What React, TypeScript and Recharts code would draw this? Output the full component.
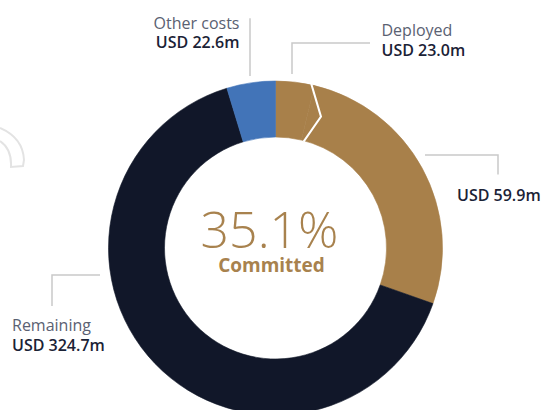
import React from 'react';
import { PieChart, Pie, Cell } from 'recharts';

// Slice order clockwise from 12 o'clock
const SLICE_NAMES = ['Deployed', 'Committed', 'Remaining', 'Other costs'];
// Share of the ring (percent)
const SLICE_SHARES = [3.75, 26.65, 64.9, 4.7];
const LABEL_TITLES = ['Deployed', '', 'Remaining', 'Other costs'];
const LABEL_VALUES = ['USD 23.0m', 'USD 59.9m', 'USD 324.7m', 'USD 22.6m'];
const CENTER_VALUE = '35.1%';
const CENTER_CAPTION = 'Committed';

const COLORS = ['#A8804A', '#A8804A', '#111729', '#4274B8'];
const FONT = '"Open Sans", "Noto Sans", sans-serif';
const LINE = '#c9c9c9';

const data = SLICE_NAMES.map((name, i) => ({ name, value: SLICE_SHARES[i] }));

// Annotation layout, relative to the pie centre
const LAYOUT = [
  { pts: [[16.5, -174], [16.5, -205], [94.5, -205]], tx: 106, ty: -212, anchor: 'start' },
  { pts: [[149.5, -93], [222.5, -93], [222.5, -73.5]], tx: 181.5, ty: -47, anchor: 'start' },
  { pts: [[-175.5, 27], [-223.5, 27], [-223.5, 58]], tx: -263.5, ty: 82.7, anchor: 'start' },
  { pts: [[-25.5, -172], [-25.5, -229.7]], tx: -36, ty: -219.5, anchor: 'end' },
];

const RAD = Math.PI / 180;
const polar = (cx: number, cy: number, r: number, a: number) => [cx + r * Math.cos(-a * RAD), cy + r * Math.sin(-a * RAD)];

const renderLabel = (props: any) => {
  const { cx, cy, index, midAngle, percent, innerRadius, outerRadius } = props;
  const lay = LAYOUT[index];
  const pts = lay.pts.map(([x, y]) => `${cx + x},${cy + y}`).join(' ');
  const title = LABEL_TITLES[index];
  let chevron = null;
  if (index === 0) {
    const end = typeof props.endAngle === 'number' ? props.endAngle : midAngle - (percent * 360) / 2;
    const midR = (innerRadius + outerRadius) / 2;
    const p1 = polar(cx, cy, outerRadius + 1, end + 1.2);
    const p2 = polar(cx, cy, midR, end - 5.6);
    const p3 = polar(cx, cy, innerRadius - 1, end - 1.3);
    chevron = (
      <polyline points={`${p1[0]},${p1[1]} ${p2[0]},${p2[1]} ${p3[0]},${p3[1]}`} fill="none" stroke="#ffffff" strokeWidth={2} />
    );
  }
  return (
    <g>
      {chevron}
      <polyline points={pts} fill="none" stroke={LINE} strokeWidth={1.5} />
      {title ? (
        <text x={cx + lay.tx} y={cy + lay.ty} textAnchor={lay.anchor} fontFamily={FONT} fontSize={16} fill="#5a6172">
          {title}
        </text>
      ) : null}
      <text x={cx + lay.tx} y={cy + lay.ty + (title ? 19.8 : 0)} textAnchor={lay.anchor} fontFamily={FONT} fontSize={16} fontWeight={600} fill="#1b2236">
        {LABEL_VALUES[index]}
      </text>
    </g>
  );
};

export default function App() {
  return (
    <div style={{ position: 'absolute', left: 0, top: 0, width: 546, height: 410, background: '#fff', overflow: 'hidden' }}>
      <svg width={60} height={200} style={{ position: 'absolute', left: 0, top: 0 }}>
        <path d="M0,128 Q23,138 24,160 L23,166 L11,167 Q12,149 0,141" fill="none" stroke="#e3e3e3" strokeWidth={2} />
      </svg>
      <div style={{ position: 'absolute', left: 0, top: 0 }}>
        <PieChart width={546} height={410} margin={{ top: 0, right: 0, bottom: 0, left: 0 }}>
          <Pie
            data={data}
            dataKey="value"
            nameKey="name"
            cx={275.5}
            cy={248}
            innerRadius={111}
            outerRadius={167}
            startAngle={90}
            endAngle={-270}
            paddingAngle={0}
            label={renderLabel}
            labelLine={false}
            isAnimationActive={false}
          >
            {data.map((d, i) => (
              <Cell key={d.name} fill={COLORS[i]} stroke={COLORS[i]} strokeWidth={0.6} />
            ))}
          </Pie>
          <text x={269.5} y={247.5} textAnchor="middle" fontFamily={FONT} fontSize={50} fontWeight={300} fill="#A8824E">
            {CENTER_VALUE}
          </text>
          <text x={271.5} y={272} textAnchor="middle" fontFamily={FONT} fontSize={19} fontWeight={700} fill="#A8824E">
            {CENTER_CAPTION}
          </text>
        </PieChart>
      </div>
    </div>
  );
}
